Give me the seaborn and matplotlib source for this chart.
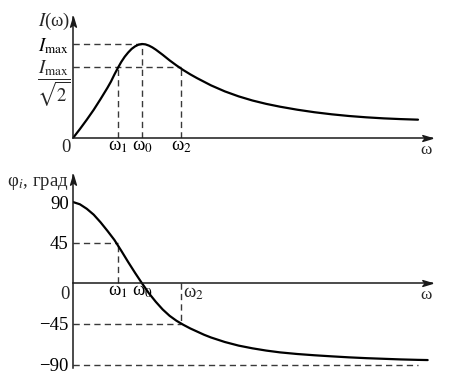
import matplotlib
matplotlib.use("Agg")
import matplotlib.pyplot as plt
import seaborn as sns
from matplotlib.path import Path
from matplotlib.markers import MarkerStyle

# ---------------- data ----------------
omega_I = [0.0, 0.1, 0.2, 0.3, 0.4, 0.5, 0.55, 0.6, 0.65, 0.7, 0.75, 0.8,
           0.85, 0.9, 0.95, 1.0, 1.05, 1.1, 1.15, 1.2, 1.3, 1.4, 1.5, 1.6,
           1.7, 1.8, 1.9, 2.0, 2.2, 2.4, 2.6, 2.8, 3.0, 3.25, 3.5, 3.75,
           4.0, 4.25, 4.5, 4.75, 5.0]
current_I = [0.0, 0.095, 0.195, 0.3, 0.415, 0.535, 0.6, 0.675, 0.745, 0.81,
             0.865, 0.91, 0.948, 0.975, 0.993, 1.0, 0.996, 0.983, 0.964, 0.94,
             0.885, 0.826, 0.772, 0.722, 0.677, 0.636, 0.598, 0.560, 0.496,
             0.443, 0.399, 0.363, 0.333, 0.301, 0.274, 0.252, 0.234, 0.22,
             0.209, 0.201, 0.195]

omega_phi = [0.0, 0.1, 0.2, 0.3, 0.4, 0.5, 0.6, 0.7, 0.8, 0.9, 1.0, 1.1,
             1.2, 1.3, 1.4, 1.5, 1.6, 1.7, 1.8, 1.9, 2.0, 2.2, 2.4, 2.6,
             2.8, 3.0, 3.25, 3.5, 3.75, 4.0, 4.25, 4.5, 4.75, 5.0, 5.14]
phase_deg = [90, 87.5, 82.5, 76, 67.5, 58, 48, 36, 23.5, 11.5, 0, -11,
             -20.5, -29, -36, -41.5, -46, -50, -53.5, -57, -60, -65, -69,
             -72, -74.5, -76.5, -78.3, -79.7, -80.9, -82, -82.9, -83.6,
             -84.3, -84.8, -85]

omega_marks = [0.65, 1.0, 1.57]            # omega_1, omega_0, omega_2
omega_labels = ["ω$_1$", "ω$_0$", "ω$_2$"]
I_max = 1.0
I_half = 0.755
I_labels = [r"$I_{\mathrm{max}}$", r"$\dfrac{I_{\mathrm{max}}}{\sqrt{2}}$"]
phi_levels = [90, 45, -45, -90]
phi_labels = ["90", "45", "\u221245", "\u221290"]
omega_end_dash = 5.0

# ---------------- style ----------------
sns.set_style("white")
plt.rcParams["font.family"] = ["Liberation Serif", "DejaVu Serif"]
plt.rcParams["mathtext.fontset"] = "stix"
FS = 13.5
plt.rcParams["font.size"] = FS

W, H = 450, 384
fig = plt.figure(figsize=(W / 100, H / 100), dpi=100)

def rect(x0, y_top, x1, y_bot):
    return [x0 / W, (H - y_bot) / H, (x1 - x0) / W, (y_bot - y_top) / H]

ax1 = fig.add_axes(rect(73, 17, 432, 138))
ax2 = fig.add_axes(rect(73, 175, 432, 368))

AX_COL = "#1a1a1a"
DASH_COL = "#3a3a3a"
dash = dict(color=DASH_COL, lw=1.0, dashes=(4.5, 3.0))
CURVE_LW = 1.6

right_arrow = MarkerStyle(Path([(0, 0), (-1, 0.3), (-0.75, 0), (-1, -0.3), (0, 0)],
                               [Path.MOVETO, Path.LINETO, Path.LINETO, Path.LINETO, Path.CLOSEPOLY]))
up_arrow = MarkerStyle(Path([(0, 0), (0.3, -1), (0, -0.75), (-0.3, -1), (0, 0)],
                            [Path.MOVETO, Path.LINETO, Path.LINETO, Path.LINETO, Path.CLOSEPOLY]))

def style_axes(ax):
    for s in ["top", "right"]:
        ax.spines[s].set_visible(False)
    for s in ["left", "bottom"]:
        ax.spines[s].set_color(AX_COL)
        ax.spines[s].set_linewidth(1.1)
    ax.tick_params(length=0, colors="black", labelsize=FS)
    ax.plot(1, 0, marker=right_arrow, ms=14, color=AX_COL,
            transform=ax.get_yaxis_transform(), clip_on=False)
    ax.plot(0, 1, marker=up_arrow, ms=14, color=AX_COL,
            transform=ax.get_xaxis_transform(), clip_on=False)
    ax.set_xlabel("")
    ax.set_ylabel("")
    ax.grid(False)

def curve(ax, x, y):
    sns.lineplot(x=x, y=y, ax=ax, color="black", linewidth=CURVE_LW,
                 estimator=None, sort=False, solid_joinstyle="round",
                 solid_capstyle="round")

# ---------------- top panel: I(omega) ----------------
ax1.set_xlim(0, 359 / 69)
ax1.set_ylim(0, 121 / 94)
w1, w0, w2 = omega_marks
ax1.plot([0, w0], [I_max, I_max], **dash)
ax1.plot([0, w2], [I_half, I_half], **dash)
ax1.plot([w1, w1], [0, I_half], **dash)
ax1.plot([w0, w0], [0, I_max], **dash)
ax1.plot([w2, w2], [0, I_half], **dash)
curve(ax1, omega_I, current_I)
style_axes(ax1)
ax1.set_xticks(omega_marks, omega_labels)
ax1.tick_params(axis="x", pad=0)
ax1.set_yticks([I_max], [I_labels[0]])
ax1.tick_params(axis="y", pad=3)
ax1.annotate(I_labels[1], xy=(0, I_half), xytext=(-2, -12), textcoords="offset points",
             ha="right", va="center", fontsize=FS)
ax1.annotate("0", xy=(0, 0), xytext=(-5, -1), textcoords="offset points",
             ha="center", va="top", fontsize=FS)
ax1.annotate("$I$(ω)", xy=(0, 1), xycoords="axes fraction", xytext=(-2, -3),
             textcoords="offset points", ha="right", va="center", fontsize=FS)
ax1.annotate("ω", xy=(1, 0), xycoords=ax1.get_yaxis_transform(), xytext=(-4, -3),
             textcoords="offset points", ha="center", va="top", fontsize=FS - 1)

# ---------------- bottom panel: phase ----------------
ax2.set_xlim(0, 359 / 69)
ax2.set_ylim((283.3 - 368) / 0.903, (283.3 - 175) / 0.903)
ax2.plot([0, w1], [45, 45], **dash)
ax2.plot([w1, w1], [0, 45], **dash)
ax2.plot([0, w2], [-45, -45], **dash)
ax2.plot([w2, w2], [0, -45], **dash)
ax2.plot([0, omega_end_dash], [-90, -90], **dash)
curve(ax2, omega_phi, phase_deg)
style_axes(ax2)
ax2.spines["bottom"].set_position(("data", 0))
ax2.set_xticks(omega_marks[:2], omega_labels[:2])
ax2.tick_params(axis="x", pad=0)
ax2.annotate(omega_labels[2], xy=(w2, 0), xytext=(1, -1), textcoords="offset points",
             ha="left", va="top", fontsize=FS)
ax2.set_yticks(phi_levels, phi_labels)
ax2.tick_params(axis="y", pad=3)
ax2.annotate("0", xy=(0, 0), xytext=(-6, -2), textcoords="offset points",
             ha="center", va="top", fontsize=FS)
ax2.annotate("φ$_i$, град", xy=(0, 1), xycoords="axes fraction", xytext=(-3, -6),
             textcoords="offset points", ha="right", va="center", fontsize=FS)
ax2.annotate("ω", xy=(1, 0), xycoords=ax2.get_yaxis_transform(), xytext=(-4, -3),
             textcoords="offset points", ha="center", va="top", fontsize=FS - 1)

fig.savefig("out.png", dpi=100)
